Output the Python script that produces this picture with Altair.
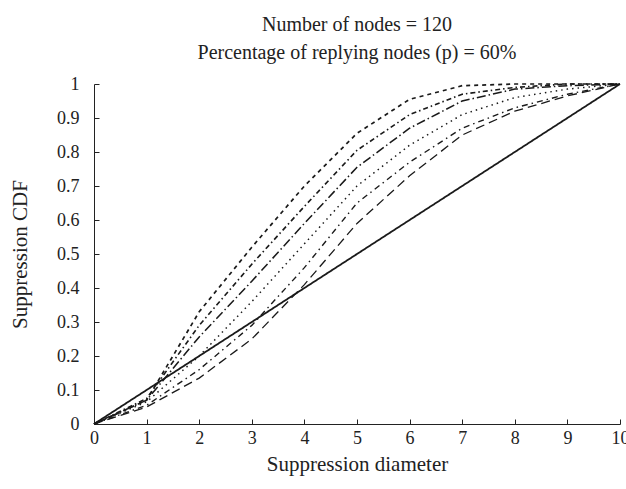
import altair as alt
import pandas as pd

x_vals = [0, 1, 2, 3, 4, 5, 6, 7, 8, 9, 10]
solid = [0, 0.1, 0.2, 0.3, 0.4, 0.5, 0.6, 0.7, 0.8, 0.9, 1.0]
s1 = [0, 0.07, 0.33, 0.52, 0.70, 0.855, 0.955, 0.995, 1.0, 1.0, 1.0]
s2 = [0, 0.075, 0.29, 0.47, 0.64, 0.805, 0.91, 0.97, 0.99, 1.0, 1.0]
s3 = [0, 0.07, 0.256, 0.42, 0.59, 0.755, 0.87, 0.95, 0.985, 0.995, 1.0]
s4 = [0, 0.065, 0.20, 0.36, 0.53, 0.70, 0.82, 0.91, 0.96, 0.985, 1.0]
s5 = [0, 0.055, 0.16, 0.29, 0.46, 0.65, 0.77, 0.87, 0.93, 0.97, 1.0]
s6 = [0, 0.05, 0.135, 0.25, 0.41, 0.59, 0.73, 0.85, 0.92, 0.965, 1.0]

series_names = ["solid", "s1", "s2", "s3", "s4", "s5", "s6"]
series_vals = [solid, s1, s2, s3, s4, s5, s6]
dashes = [[1, 0], [4, 4], [5, 3, 1.5, 3], [9, 3, 1.5, 3], [1.5, 4], [6, 4, 1.5, 4], [9, 5]]
widths = [1.8, 1.3, 1.3, 1.3, 1.3, 1.3, 1.3]

x_ticks = list(range(0, 11))
y_ticks = [round(i * 0.1, 1) for i in range(11)]

rows = []
for name, vals in zip(series_names, series_vals):
    for xv, yv in zip(x_vals, vals):
        rows.append({"x": xv, "y": yv, "series": name})
df = pd.DataFrame(rows)

FONT = "Liberation Serif"
xs = alt.Scale(domain=[0, 10], nice=False)
ys = alt.Scale(domain=[0, 1], nice=False)

chart = alt.Chart(df).mark_line(color="#1a1a1a").encode(
    x=alt.X("x:Q", scale=xs, title="Suppression diameter",
            axis=alt.Axis(values=x_ticks, format="d", grid=False,
                          ticks=True, tickSize=alt.ExprRef(expr="-5"), tickColor="#222",
                          labelFlush=False, labelOverlap=False,
                          domainColor="#222", labelFont=FONT, labelFontSize=18,
                          labelColor="#222", labelPadding=10,
                          titleFont=FONT, titleFontSize=21, titleFontWeight="normal",
                          titleColor="#222", titlePadding=6)),
    y=alt.Y("y:Q", scale=ys, title="Suppression CDF",
            axis=alt.Axis(values=y_ticks, format="~g", grid=False,
                          ticks=True, tickSize=alt.ExprRef(expr="-5"), tickColor="#222",
                          labelFlush=False, labelOverlap=False,
                          domainColor="#222", labelFont=FONT, labelFontSize=18,
                          labelColor="#222", labelPadding=20,
                          titleFont=FONT, titleFontSize=21, titleFontWeight="normal",
                          titleColor="#222", titlePadding=26)),
    strokeDash=alt.StrokeDash("series:N", scale=alt.Scale(domain=series_names, range=dashes), legend=None),
    strokeWidth=alt.StrokeWidth("series:N", scale=alt.Scale(domain=series_names, range=widths), legend=None),
    detail="series:N",
).properties(
    width=526, height=340,
    title=alt.TitleParams(
        text=["Number of nodes = 120", "Percentage of replying nodes (p) = 60%"],
        font=FONT, fontSize=20, fontWeight="normal", color="#222",
        anchor="middle", lineHeight=28, offset=12),
    autosize=alt.AutoSizeParams(type="none"),
    padding={"left": 94, "top": 84, "right": 6, "bottom": 65},
).configure_view(stroke=None)

chart.save("out.html", embed_options={"renderer": "svg", "actions": False})
